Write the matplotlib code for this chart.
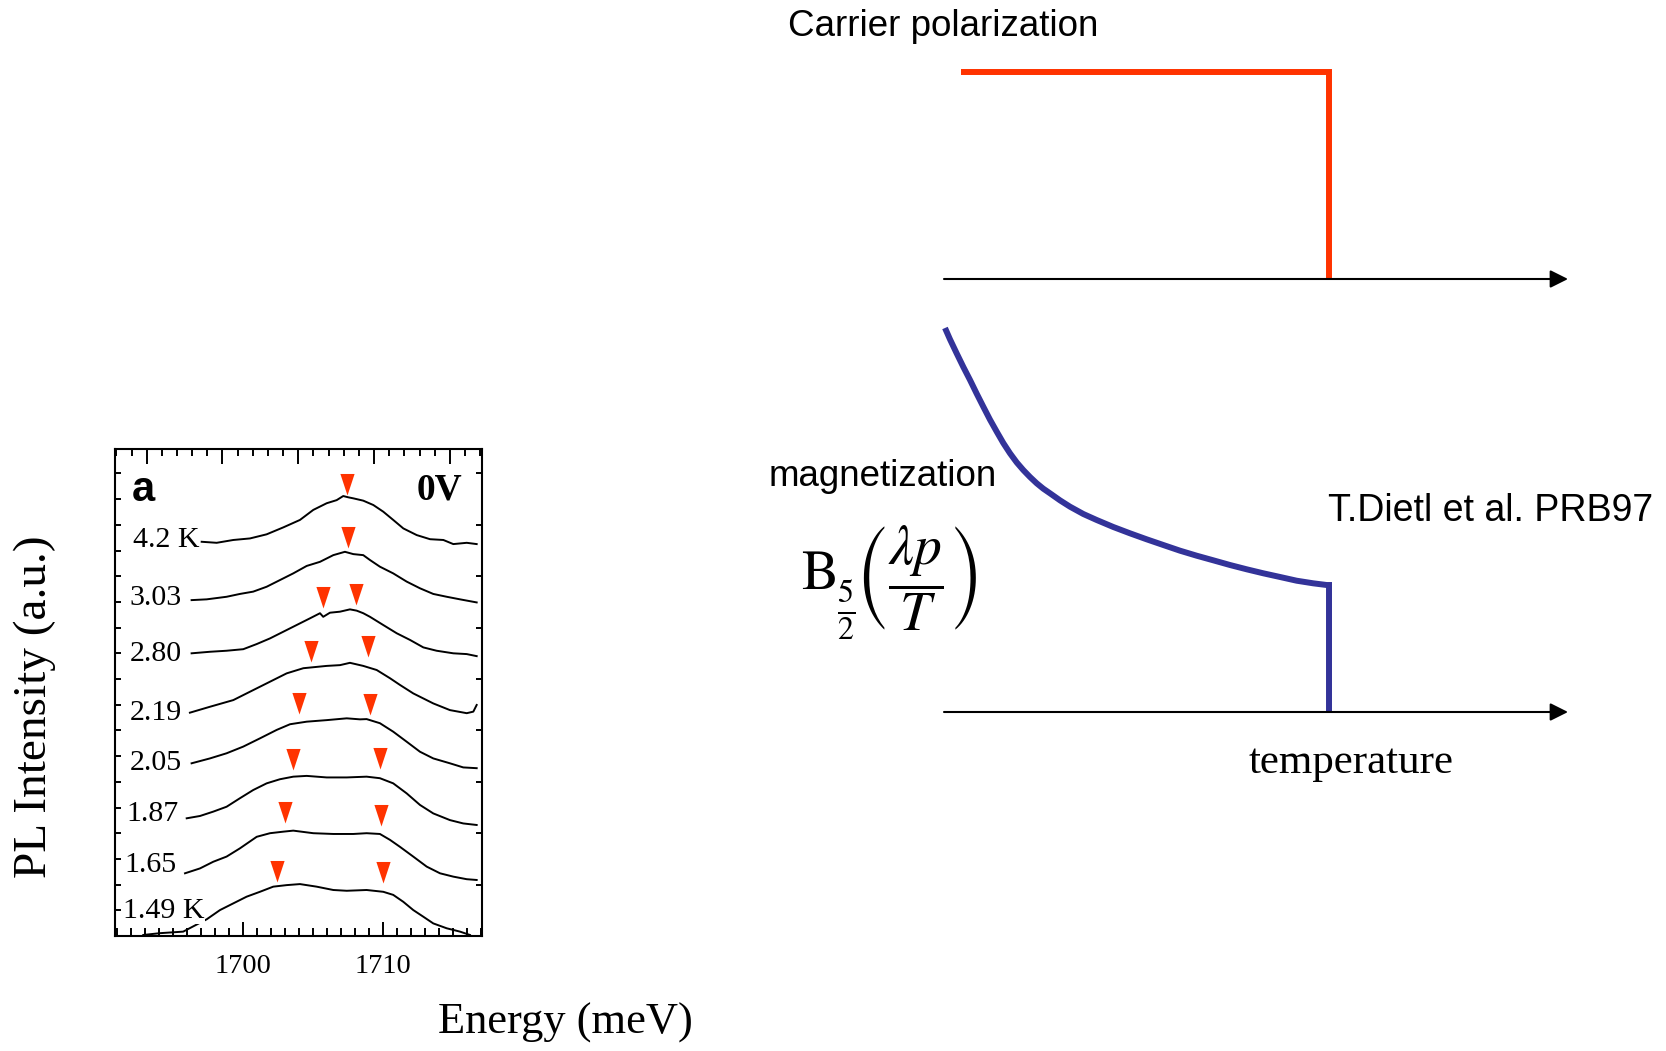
import matplotlib.pyplot as plt
import numpy as np

# PL spectra at 0 V; energy in meV, intensity with vertical offsets (a.u.)
temp_labels = ['4.2 K', '3.03', '2.80', '2.19', '2.05', '1.87', '1.65', '1.49 K']

energy_42 = [1697.03, 1698.10, 1699.29, 1700.48, 1701.67, 1702.86, 1704.05, 1705.00, 1705.96,
             1706.67, 1707.14, 1707.50, 1707.86, 1708.57, 1709.29, 1710.00, 1710.71, 1711.43,
             1712.39, 1713.34, 1714.29, 1715.00, 1715.96, 1716.67]
pl_42 = [15.34, 15.30, 15.41, 15.47, 15.63, 15.90, 16.19, 16.58, 16.84, 16.96, 17.12, 17.07,
         17.03, 16.94, 16.77, 16.51, 16.19, 15.86, 15.60, 15.44, 15.41, 15.25, 15.30, 15.25]

energy_303 = [1696.31, 1697.39, 1698.81, 1699.76, 1700.71, 1701.67, 1702.62, 1703.57, 1704.53,
              1705.48, 1706.43, 1707.26, 1707.86, 1708.57, 1709.05, 1709.76, 1710.71, 1711.67,
              1712.62, 1713.57, 1714.53, 1715.48, 1716.67]
pl_303 = [13.07, 13.10, 13.20, 13.31, 13.40, 13.59, 13.85, 14.11, 14.40, 14.56, 14.82, 14.95,
          14.86, 14.82, 14.63, 14.37, 14.11, 13.79, 13.53, 13.31, 13.20, 13.10, 12.98]

energy_280 = [1696.31, 1697.62, 1698.81, 1700.00, 1700.96, 1701.91, 1702.86, 1703.81, 1704.76,
              1705.48, 1705.71, 1706.19, 1706.91, 1707.62, 1708.10, 1708.57, 1709.05, 1710.00,
              1710.96, 1711.91, 1712.86, 1713.81, 1715.00, 1715.96, 1716.67]
pl_280 = [11.00, 11.06, 11.10, 11.16, 11.36, 11.58, 11.84, 12.10, 12.36, 12.56, 12.42, 12.58,
          12.62, 12.71, 12.66, 12.56, 12.42, 12.10, 11.78, 11.52, 11.23, 11.10, 11.00, 10.97, 10.89]

energy_219 = [1696.19, 1697.62, 1699.29, 1700.24, 1701.67, 1703.10, 1704.29, 1705.96, 1706.91,
              1707.62, 1708.57, 1709.53, 1710.48, 1711.19, 1712.14, 1713.57, 1714.76, 1715.96,
              1716.43, 1716.67]
pl_219 = [8.69, 8.92, 9.18, 9.44, 9.83, 10.22, 10.42, 10.51, 10.54, 10.63, 10.51, 10.35, 10.03,
          9.77, 9.44, 9.05, 8.79, 8.67, 8.73, 8.99]

energy_205 = [1696.31, 1697.62, 1698.81, 1700.00, 1701.19, 1702.39, 1703.34, 1704.53, 1705.96,
              1707.39, 1708.34, 1708.81, 1709.76, 1710.71, 1711.67, 1712.62, 1713.57, 1714.76,
              1715.71, 1716.67]
pl_205 = [6.72, 6.91, 7.11, 7.37, 7.69, 8.02, 8.24, 8.34, 8.40, 8.47, 8.43, 8.44, 8.28, 7.95,
          7.56, 7.17, 6.91, 6.72, 6.56, 6.53]

energy_187 = [1695.96, 1696.91, 1697.86, 1698.81, 1699.76, 1700.71, 1701.67, 1702.62, 1703.57,
              1704.53, 1705.96, 1707.39, 1708.81, 1709.76, 1710.71, 1711.67, 1712.62, 1713.57,
              1714.76, 1715.71, 1716.67]
pl_187 = [4.58, 4.67, 4.84, 5.03, 5.36, 5.68, 5.94, 6.10, 6.20, 6.23, 6.17, 6.17, 6.20, 6.14,
          5.94, 5.55, 5.10, 4.77, 4.51, 4.38, 4.32]

energy_165 = [1695.84, 1696.91, 1697.86, 1698.81, 1699.76, 1700.96, 1701.91, 1702.86, 1703.57,
              1705.00, 1706.43, 1707.86, 1708.81, 1709.76, 1710.48, 1711.19, 1712.14, 1713.10,
              1714.05, 1715.00, 1715.96, 1716.67]
pl_165 = [2.44, 2.63, 2.89, 3.09, 3.41, 3.86, 4.00, 4.06, 4.10, 4.00, 3.97, 3.97, 4.00, 3.97,
          3.74, 3.47, 3.09, 2.70, 2.44, 2.31, 2.21, 2.18]

energy_149 = [1692.86, 1694.05, 1695.71, 1697.39, 1698.34, 1699.29, 1700.24, 1701.19, 1702.14,
              1703.10, 1704.05, 1705.24, 1706.43, 1707.39, 1708.81, 1710.00, 1710.71, 1711.43,
              1712.14, 1712.86, 1713.57, 1714.53, 1715.48, 1716.19]
pl_149 = [0.04, 0.11, 0.17, 0.65, 1.01, 1.27, 1.53, 1.72, 1.92, 1.98, 2.02, 1.92, 1.79, 1.76,
          1.79, 1.72, 1.60, 1.33, 1.01, 0.75, 0.49, 0.30, 0.17, 0.04]

spectra = [(energy_42, pl_42), (energy_303, pl_303), (energy_280, pl_280), (energy_219, pl_219),
           (energy_205, pl_205), (energy_187, pl_187), (energy_165, pl_165), (energy_149, pl_149)]

# peak positions marked with arrows (energy, height of the arrow tip)
peak_energy = [[1707.38], [1707.50], [1705.67, 1708.05], [1704.81, 1708.88],
               [1704.00, 1709.05], [1703.52, 1709.76], [1703.00, 1709.84], [1702.38, 1710.00]]
peak_level = [[17.16], [15.09], [12.75, 12.88], [10.67, 10.84],
              [8.63, 8.60], [6.46, 6.49], [4.39, 4.28], [2.11, 2.05]]

energy_ticks = [1700, 1710]

# schematic: carrier polarization and magnetization vs temperature (T_c = 0.617)
pol_temp = [0.027, 0.617, 0.617]
pol_value = [1.0, 1.0, 0.0]

mag_temp = [0.0016, 0.0096, 0.0203, 0.0310, 0.0417, 0.0524, 0.0630, 0.0737, 0.0845, 0.0950,
            0.1058, 0.1165, 0.1271, 0.1378, 0.1486, 0.1591, 0.1699, 0.1859, 0.2019, 0.2233,
            0.2447, 0.2713, 0.2981, 0.3248, 0.3514, 0.3782, 0.4050, 0.4316, 0.4583, 0.4851,
            0.5117, 0.5385, 0.5652, 0.5918, 0.6133, 0.617, 0.617]
mag_value = [1.0, 0.9705, 0.934, 0.8984, 0.8646, 0.829, 0.795, 0.7613, 0.730, 0.7005,
             0.6736, 0.650, 0.630, 0.612, 0.5955, 0.5816, 0.5695, 0.5512, 0.5347, 0.5156,
             0.500, 0.4818, 0.4653, 0.4497, 0.4349, 0.4201, 0.4070, 0.3950, 0.3828, 0.3716,
             0.3612, 0.3516, 0.3419, 0.3351, 0.3307, 0.3307, 0.0]

W, H = 1666, 1051
serif = 'Liberation Serif'
sans = 'Liberation Sans'
plt.rcParams['mathtext.fontset'] = 'stix'


def fx(x):
    return x / W


def fy(y):
    return 1 - y / H


fig = plt.figure(figsize=(W / 100, H / 100), dpi=100)

# ---- PL panel ----
ax = fig.add_axes([fx(115), fy(936), (482 - 115) / W, (936 - 449) / H])
for e, p in spectra:
    ax.plot(e, p, color='k', lw=1.4, zorder=2)

tri = [(-0.33, 1.0), (0.33, 1.0), (0.0, 0.0), (-0.33, 1.0)]
for pe, pl in zip(peak_energy, peak_level):
    ax.plot(pe, pl, ls='none', marker=tri, ms=31, color='#FF3300', mew=0, zorder=3)

label_pos = [(1696.91, 15.41), (1695.60, 13.16), (1695.60, 10.97), (1695.60, 8.69),
             (1695.60, 6.75), (1695.36, 4.75), (1695.24, 2.76), (1697.26, 0.97)]
for lab, (x, y) in zip(temp_labels, label_pos):
    t = ax.text(x, y, lab, ha='right', va='center', fontsize=21.5, family=serif, zorder=4)
    if lab == '1.49 K':
        t.set_bbox(dict(facecolor='white', edgecolor='none', pad=0))

ax.text(1692.05, 17.35, 'a', ha='left', va='center', fontsize=30, fontweight='bold', family=sans)
ax.text(1715.62, 17.35, '0V', ha='right', va='center', fontsize=27, fontweight='bold', family=serif)

ax.set_xlim(1690.84, 1717.05)
ax.set_ylim(0, 18.95)
ax.set_xticks(energy_ticks)
ax.set_xticklabels([str(v) for v in energy_ticks], fontsize=20.5, family=serif)
ax.set_xticks(np.arange(1691, 1718, 1), minor=True)
ax.set_yticks(np.arange(0, 19, 1))
ax.set_yticks([], minor=True)
ax.set_yticklabels([])
ax.tick_params(axis='x', which='major', direction='in', length=10, width=1.4, pad=13)
ax.tick_params(axis='x', which='minor', direction='in', length=5.5, width=1.4)
ax.tick_params(axis='y', direction='in', length=4, width=1.4, left=True, right=False)
for s in ax.spines.values():
    s.set_linewidth(1.5)

# right-hand ticks every second step
ay = ax.twinx()
ay.set_ylim(0, 18.95)
ay.set_yticks(np.arange(0, 19, 2))
ay.set_yticklabels([])
ay.tick_params(axis='y', direction='in', length=4, width=1.4)
for s in ay.spines.values():
    s.set_visible(False)

# top axis has its own tick spacing
at = ax.twiny()
at.set_xlim(-2.09, 22.12)
at.set_xticks(np.arange(0, 21, 5))
at.set_xticks(np.arange(-2, 23, 1), minor=True)
at.set_xticklabels([])
at.tick_params(axis='x', which='major', direction='in', length=11, width=1.4)
at.tick_params(axis='x', which='minor', direction='in', length=5, width=1.4)
for s in at.spines.values():
    s.set_visible(False)

fig.text(fx(565), fy(1023), 'Energy (meV)', ha='center', va='center', fontsize=32, family=serif)
fig.text(fx(35), fy(707), 'PL Intensity (a.u.)', ha='center', va='center', rotation=90,
         fontsize=34, family=serif)

# ---- schematic: carrier polarization ----
arrow = dict(arrowstyle='-|>,head_length=0.6,head_width=0.3', lw=1.5, color='k',
             mutation_scale=18, shrinkA=0, shrinkB=0)

ap = fig.add_axes([fx(944), fy(279), 624 / W, (279 - 72) / H])
ap.set_xlim(0, 1)
ap.set_ylim(0, 1)
ap.axis('off')
ap.annotate('', xy=(1, 0), xytext=(0, 0), arrowprops=arrow, annotation_clip=False)
ap.plot(pol_temp, pol_value, color='#FF3300', lw=4.3, clip_on=False,
        solid_capstyle='butt', solid_joinstyle='miter')

# ---- schematic: magnetization ----
am = fig.add_axes([fx(944), fy(712), 624 / W, (712 - 328) / H])
am.set_xlim(0, 1)
am.set_ylim(0, 1)
am.axis('off')
am.annotate('', xy=(1, 0), xytext=(0, 0), arrowprops=arrow, annotation_clip=False)
am.plot(mag_temp, mag_value, color='#333399', lw=4.3, clip_on=False,
        solid_capstyle='butt', solid_joinstyle='miter')

fig.text(fx(788), fy(27), 'Carrier polarization', ha='left', va='center', fontsize=26.5, family=sans)
fig.text(fx(769), fy(476), 'magnetization', ha='left', va='center', fontsize=26.5, family=sans)
fig.text(fx(1328), fy(511), 'T.Dietl et al. PRB97', ha='left', va='center', fontsize=27, family=sans)
fig.text(fx(1351), fy(763), 'temperature', ha='center', va='center', fontsize=31, family=serif)

# Brillouin function B_{5/2}(lambda p / T), set in three pieces
fig.text(fx(818), fy(574), r'$\mathrm{B}$', ha='center', va='center', fontsize=40)
fig.text(fx(846), fy(611), r'$\frac{5}{2}$', ha='center', va='center', fontsize=33)
fig.text(fx(916), fy(578), r'$\left(\dfrac{\lambda p}{T}\right)$',
         ha='center', va='center', fontsize=40)

fig.savefig('out.png', dpi=100)
